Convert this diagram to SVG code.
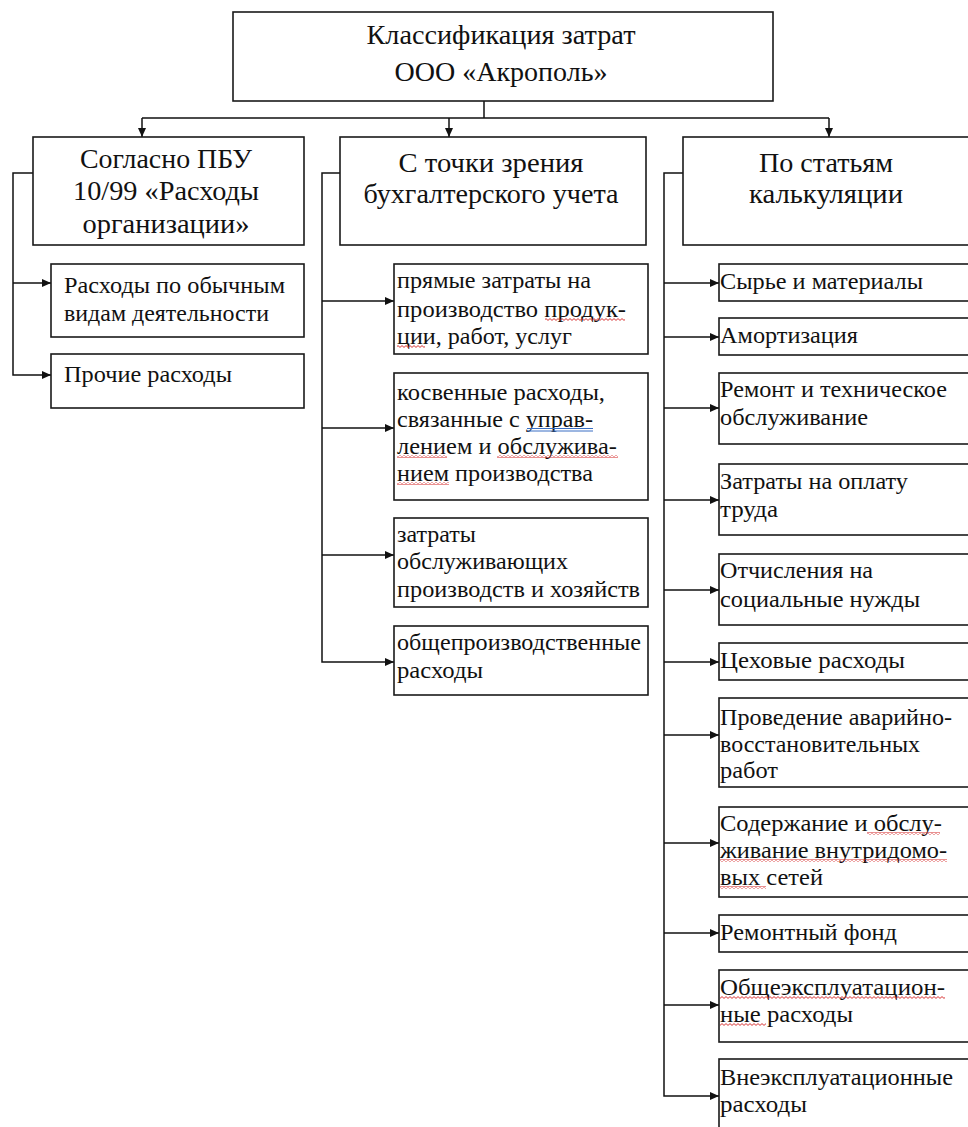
<svg xmlns="http://www.w3.org/2000/svg" width="968" height="1127" viewBox="0 0 968 1127">
<style>
.box{fill:#fff;stroke:#1a1a1a;stroke-width:1.6}
.title{font-family:"Liberation Serif","Tinos","DejaVu Serif","Noto Serif","Times New Roman",serif;font-size:27px;fill:#111;text-anchor:middle}
.t{font-family:"Liberation Serif","Tinos","DejaVu Serif","Noto Serif","Times New Roman",serif;font-size:23px;fill:#111}
.conn{fill:none;stroke:#111;stroke-width:1.5}
</style>
<defs>
<marker id="ah" markerUnits="userSpaceOnUse" markerWidth="10" markerHeight="8" refX="9" refY="4" orient="auto">
<path d="M0,0 L9,4 L0,8 z" fill="#111"/>
</marker>
<pattern id="wave" patternUnits="userSpaceOnUse" width="4" height="3">
<path d="M0,2.4 L2,0.6 L4,2.4" fill="none" stroke="#d42020" stroke-width="0.9"/>
</pattern>
</defs>
<rect width="968" height="1127" fill="#fff"/>

<g id="connectors">
<path class="conn" d="M484,101 V118 M142,118 H829"/>
<path class="conn" d="M142,118 V137" marker-end="url(#ah)"/>
<path class="conn" d="M449,118 V137" marker-end="url(#ah)"/>
<path class="conn" d="M829,118 V137" marker-end="url(#ah)"/>

<path class="conn" d="M33,173 H13 V375 H51" marker-end="url(#ah)"/>
<path class="conn" d="M13,283 H51" marker-end="url(#ah)"/>

<path class="conn" d="M340,173 H322 V662 H394" marker-end="url(#ah)"/>
<path class="conn" d="M322,301 H394" marker-end="url(#ah)"/>
<path class="conn" d="M322,428 H394" marker-end="url(#ah)"/>
<path class="conn" d="M322,555 H394" marker-end="url(#ah)"/>

<path class="conn" d="M683,173 H664 V1096 H719" marker-end="url(#ah)"/>
<path class="conn" d="M664,283 H719" marker-end="url(#ah)"/>
<path class="conn" d="M664,337 H719" marker-end="url(#ah)"/>
<path class="conn" d="M664,408 H719" marker-end="url(#ah)"/>
<path class="conn" d="M664,500 H719" marker-end="url(#ah)"/>
<path class="conn" d="M664,590 H719" marker-end="url(#ah)"/>
<path class="conn" d="M664,662 H719" marker-end="url(#ah)"/>
<path class="conn" d="M664,735 H719" marker-end="url(#ah)"/>
<path class="conn" d="M664,843 H719" marker-end="url(#ah)"/>
<path class="conn" d="M664,933 H719" marker-end="url(#ah)"/>
<path class="conn" d="M664,1005 H719" marker-end="url(#ah)"/>
</g>

<g id="root">
<rect class="box" x="233" y="12" width="540" height="89"/>
<text class="title" x="501" y="44" textLength="269" lengthAdjust="spacingAndGlyphs">Классификация затрат</text>
<text class="title" x="501" y="81" textLength="213" lengthAdjust="spacingAndGlyphs">ООО «Акрополь»</text>
</g>

<g id="pbu">
<rect class="box" x="33" y="137" width="271" height="108"/>
<text class="title" x="166" y="168" textLength="172" lengthAdjust="spacingAndGlyphs">Согласно ПБУ</text>
<text class="title" x="166" y="200" textLength="186" lengthAdjust="spacingAndGlyphs">10/99 «Расходы</text>
<text class="title" x="166" y="233" textLength="167" lengthAdjust="spacingAndGlyphs">организации»</text>
</g>
<g id="buh">
<rect class="box" x="340" y="137" width="306" height="108"/>
<text class="title" x="491" y="172" textLength="185" lengthAdjust="spacingAndGlyphs">С точки зрения</text>
<text class="title" x="491" y="203" textLength="255" lengthAdjust="spacingAndGlyphs">бухгалтерского учета</text>
</g>
<g id="calc">
<rect class="box" x="683" y="137" width="290" height="108"/>
<text class="title" x="826" y="172" textLength="134" lengthAdjust="spacingAndGlyphs">По статьям</text>
<text class="title" x="826" y="203" textLength="154" lengthAdjust="spacingAndGlyphs">калькуляции</text>
</g>

<g id="pbu-1">
<rect class="box" x="51" y="264" width="253" height="73"/>
<text class="t" x="64" y="293" textLength="221" lengthAdjust="spacingAndGlyphs">Расходы по обычным</text>
<text class="t" x="64" y="321" textLength="205" lengthAdjust="spacingAndGlyphs">видам деятельности</text>
</g>
<g id="pbu-2">
<rect class="box" x="51" y="354" width="253" height="54"/>
<text class="t" x="64" y="382" textLength="168" lengthAdjust="spacingAndGlyphs">Прочие расходы</text>
</g>

<g id="buh-1">
<rect class="box" x="394" y="264" width="254" height="90"/>
<text class="t" x="397" y="288" textLength="194" lengthAdjust="spacingAndGlyphs">прямые затраты на</text>
<text class="t" x="397" y="317" textLength="229" lengthAdjust="spacingAndGlyphs">производство продук-</text>
<text class="t" x="397" y="344" textLength="175" lengthAdjust="spacingAndGlyphs">ции, работ, услуг</text>
</g>
<g id="buh-2">
<rect class="box" x="394" y="373" width="254" height="127"/>
<text class="t" x="397" y="400" textLength="208" lengthAdjust="spacingAndGlyphs">косвенные расходы,</text>
<text class="t" x="397" y="427" textLength="196" lengthAdjust="spacingAndGlyphs">связанные с управ-</text>
<text class="t" x="397" y="454" textLength="220" lengthAdjust="spacingAndGlyphs">лением и обслужива-</text>
<text class="t" x="397" y="481" textLength="196" lengthAdjust="spacingAndGlyphs">нием производства</text>
</g>
<g id="buh-3">
<rect class="box" x="394" y="518" width="254" height="89"/>
<text class="t" x="397" y="542" textLength="79" lengthAdjust="spacingAndGlyphs">затраты</text>
<text class="t" x="397" y="569" textLength="171" lengthAdjust="spacingAndGlyphs">обслуживающих</text>
<text class="t" x="397" y="597" textLength="243" lengthAdjust="spacingAndGlyphs">производств и хозяйств</text>
</g>
<g id="buh-4">
<rect class="box" x="394" y="626" width="254" height="69"/>
<text class="t" x="397" y="650" textLength="244" lengthAdjust="spacingAndGlyphs">общепроизводственные</text>
<text class="t" x="397" y="678" textLength="86" lengthAdjust="spacingAndGlyphs">расходы</text>
</g>

<g id="c1"><rect class="box" x="719" y="264" width="256" height="37"/><text class="t" x="720" y="289" textLength="203" lengthAdjust="spacingAndGlyphs">Сырье и материалы</text></g>
<g id="c2"><rect class="box" x="719" y="318" width="256" height="37"/><text class="t" x="720" y="343" textLength="138" lengthAdjust="spacingAndGlyphs">Амортизация</text></g>
<g id="c3"><rect class="box" x="719" y="373" width="256" height="71"/><text class="t" x="720" y="397" textLength="227" lengthAdjust="spacingAndGlyphs">Ремонт и техническое</text><text class="t" x="720" y="425" textLength="148" lengthAdjust="spacingAndGlyphs">обслуживание</text></g>
<g id="c4"><rect class="box" x="719" y="464" width="256" height="71"/><text class="t" x="720" y="489" textLength="188" lengthAdjust="spacingAndGlyphs">Затраты на оплату</text><text class="t" x="720" y="517" textLength="58" lengthAdjust="spacingAndGlyphs">труда</text></g>
<g id="c5"><rect class="box" x="719" y="554" width="256" height="71"/><text class="t" x="720" y="578" textLength="153" lengthAdjust="spacingAndGlyphs">Отчисления на</text><text class="t" x="720" y="607" textLength="200" lengthAdjust="spacingAndGlyphs">социальные нужды</text></g>
<g id="c6"><rect class="box" x="719" y="643" width="256" height="37"/><text class="t" x="720" y="668" textLength="185" lengthAdjust="spacingAndGlyphs">Цеховые расходы</text></g>
<g id="c7"><rect class="box" x="719" y="698" width="256" height="89"/><text class="t" x="720" y="725" textLength="232" lengthAdjust="spacingAndGlyphs">Проведение аварийно-</text><text class="t" x="720" y="752" textLength="200" lengthAdjust="spacingAndGlyphs">восстановительных</text><text class="t" x="720" y="778" textLength="58" lengthAdjust="spacingAndGlyphs">работ</text></g>
<g id="c8"><rect class="box" x="719" y="807" width="256" height="90"/><text class="t" x="720" y="831" textLength="222" lengthAdjust="spacingAndGlyphs">Содержание и обслу-</text><text class="t" x="720" y="858" textLength="227" lengthAdjust="spacingAndGlyphs">живание внутридомо-</text><text class="t" x="720" y="885" textLength="103" lengthAdjust="spacingAndGlyphs">вых сетей</text></g>
<g id="c9"><rect class="box" x="719" y="915" width="256" height="37"/><text class="t" x="720" y="940" textLength="177" lengthAdjust="spacingAndGlyphs">Ремонтный фонд</text></g>
<g id="c10"><rect class="box" x="719" y="970" width="256" height="72"/><text class="t" x="720" y="995" textLength="225" lengthAdjust="spacingAndGlyphs">Общеэксплуатацион-</text><text class="t" x="720" y="1022" textLength="133" lengthAdjust="spacingAndGlyphs">ные расходы</text></g>
<g id="c11"><rect class="box" x="719" y="1059" width="256" height="80"/><text class="t" x="720" y="1085" textLength="233" lengthAdjust="spacingAndGlyphs">Внеэксплуатационные</text><text class="t" x="720" y="1112" textLength="87" lengthAdjust="spacingAndGlyphs">расходы</text></g>

<g id="spellcheck">
<rect x="545" y="318" width="80" height="3" fill="url(#wave)"/>
<rect x="397" y="345" width="28" height="3" fill="url(#wave)"/>
<path d="M527,428.5 H593 M527,431 H593" stroke="#3a6fc4" stroke-width="1" fill="none"/>
<rect x="397" y="455" width="50" height="3" fill="url(#wave)"/>
<rect x="497" y="455" width="121" height="3" fill="url(#wave)"/>
<rect x="397" y="482" width="52" height="3" fill="url(#wave)"/>
<rect x="867" y="832" width="73" height="3" fill="url(#wave)"/>
<rect x="720" y="859" width="227" height="3" fill="url(#wave)"/>
<rect x="720" y="886" width="46" height="3" fill="url(#wave)"/>
<rect x="720" y="996" width="225" height="3" fill="url(#wave)"/>
<rect x="720" y="1023" width="46" height="3" fill="url(#wave)"/>
</g>
</svg>
